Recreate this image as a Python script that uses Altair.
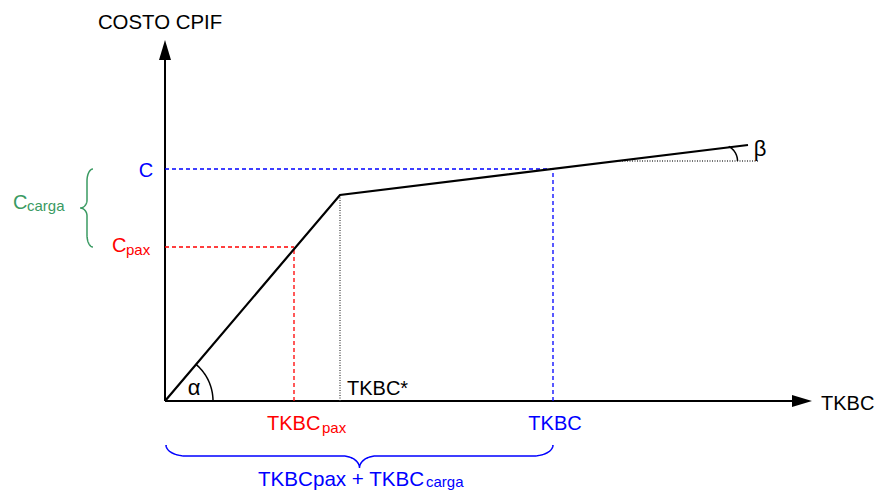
import altair as alt
import pandas as pd
import numpy as np

# ---- diagram values (origin = axes intersection; x to the right, y upwards) ----
curve_x = [0, 175, 583]          # TKBC of the cost curve points (origin, TKBC*, end)
curve_y = [0, 206, 256]          # COSTO CPIF at those points
tkbc_star = 175
tkbc_pax, c_pax = 129, 154
tkbc_tot, c_tot = 388, 232
x_axis_end, y_axis_end = 630, 345
x_arrow, y_arrow = 637, 351
alpha_r = 48
beta_y, beta_x0, beta_x1 = 240, 452, 593
beta_cx, beta_r, beta_deg = 556, 16.5, 62

label_text = ["COSTO CPIF", "TKBC", "C", "C", "pax", "C", "carga", "TKBC*",
              "TKBC", "pax", "TKBC", "TKBCpax + TKBC", "carga", "α", "β"]
label_x = [-5, 656, -19, -53, -39, -152, -138, 182, 102, 157, 390, 93, 261, 29, 595]
label_y = [372, -9, 224, 149, 146.5, 192, 190, 6, -29, -32, -29, -84.5, -85.5, 6, 245]
label_color = ["black", "black", "#0000ff", "#ff0000", "#ff0000", "#3a9a62", "#3a9a62",
               "black", "#ff0000", "#ff0000", "#0000ff", "#0000ff", "#0000ff", "black", "black"]
label_size = [20.4, 20, 20, 20, 15, 20, 15, 20, 20, 15, 20, 20.6, 15, 22, 22]
label_align = ["center", "left", "center", "left", "left", "left", "left", "left",
               "left", "left", "center", "left", "left", "center", "center"]

XS = alt.Scale(domain=[-157, 711])
YS = alt.Scale(domain=[-89, 393])


def X(f="x"):
    return alt.X(f"{f}:Q", scale=XS, axis=None)


def Y(f="y"):
    return alt.Y(f"{f}:Q", scale=YS, axis=None)


def brace(a, b, base, body, tip, r1, r2, n=24):
    th = np.linspace(0, np.pi / 2, n)
    m = (a + b) / 2
    u1 = a + r1 - r1 * np.cos(th)
    v1 = base + (body - base) * np.sin(th)
    u2 = m - r2 + r2 * np.sin(th)
    v2 = tip - (tip - body) * np.cos(th)
    uh = np.concatenate([u1, u2])
    vh = np.concatenate([v1, v2])
    u = np.concatenate([uh, (2 * m - uh)[::-1]])
    v = np.concatenate([vh, vh[::-1]])
    return u, v


def line_layer(xs, ys, color, width=2.0, dash=None):
    df = pd.DataFrame({"x": xs, "y": ys, "i": range(len(xs))})
    kw = dict(color=color, strokeWidth=width)
    if dash:
        kw["strokeDash"] = dash
    return alt.Chart(df).mark_line(**kw).encode(x=X(), y=Y(), order=alt.Order("i:Q"))


def rule_layer(rows, color, width=1.3, dash=None):
    df = pd.DataFrame(rows, columns=["x", "y", "x2", "y2"])
    kw = dict(color=color, strokeWidth=width)
    if dash:
        kw["strokeDash"] = dash
    return alt.Chart(df).mark_rule(**kw).encode(x=X(), y=Y(), x2="x2:Q", y2="y2:Q")


layers = []

# axes
layers.append(rule_layer([[0, 0, x_axis_end, 0], [0, 0, 0, y_axis_end]], "black", 2))
arrows = pd.DataFrame({"x": [x_arrow, 0], "y": [0, y_arrow],
                       "shape": ["M1,0L-1,-0.6L-1,0.6Z", "M0,-1L0.6,1L-0.6,1Z"]})
layers.append(alt.Chart(arrows).mark_point(filled=True, size=400, color="black", opacity=1)
              .encode(x=X(), y=Y(), shape=alt.Shape("shape:N", scale=None)))

# guide lines
layers.append(rule_layer([[0, c_pax, tkbc_pax, c_pax], [tkbc_pax, 0, tkbc_pax, c_pax]],
                         "#ff0000", 1.3, [4, 3]))
layers.append(rule_layer([[0, c_tot, tkbc_tot, c_tot], [tkbc_tot, 0, tkbc_tot, c_tot]],
                         "#0000ff", 1.3, [4, 3]))
layers.append(rule_layer([[tkbc_star, 0, tkbc_star, curve_y[1]],
                          [beta_x0, beta_y, beta_x1, beta_y]], "#444444", 1.3, [1, 1.5]))

# cost curve
layers.append(line_layer(curve_x, curve_y, "black", 2.2))

# angle arcs
a_end = np.arctan2(curve_y[1], curve_x[1])
th = np.linspace(0, a_end, 30)
layers.append(line_layer(alpha_r * np.cos(th), alpha_r * np.sin(th), "black", 1.5))
thb = np.linspace(0, np.radians(beta_deg), 20)
layers.append(line_layer(beta_cx + beta_r * np.cos(thb), beta_y + beta_r * np.sin(thb), "black", 1.5))

# braces
bu, bv = brace(1, tkbc_tot, -44, -55, -67, 20, 17)
layers.append(line_layer(bu, bv, "#0000ff", 1.5))
gu, gv = brace(c_pax, c_tot, -72, -78, -85, 12, 8)
layers.append(line_layer(gv, gu, "#3a9a62", 1.5))

# labels
labels = pd.DataFrame({"text": label_text, "x": label_x, "y": label_y, "color": label_color,
                       "size": label_size, "align": label_align})
for al in ["left", "center"]:
    sub = labels[labels["align"] == al]
    layers.append(alt.Chart(sub).mark_text(font="Liberation Sans", baseline="alphabetic", align=al)
                  .encode(x=X(), y=Y(), text="text:N",
                          color=alt.Color("color:N", scale=None),
                          size=alt.Size("size:Q", scale=None)))

chart = alt.layer(*layers).properties(
    width=868, height=482, padding=0, autosize=alt.AutoSizeParams(type="none"),
    background="white"
).configure_view(stroke=None)

chart.save("out.html", embed_options={"renderer": "svg", "actions": False})
